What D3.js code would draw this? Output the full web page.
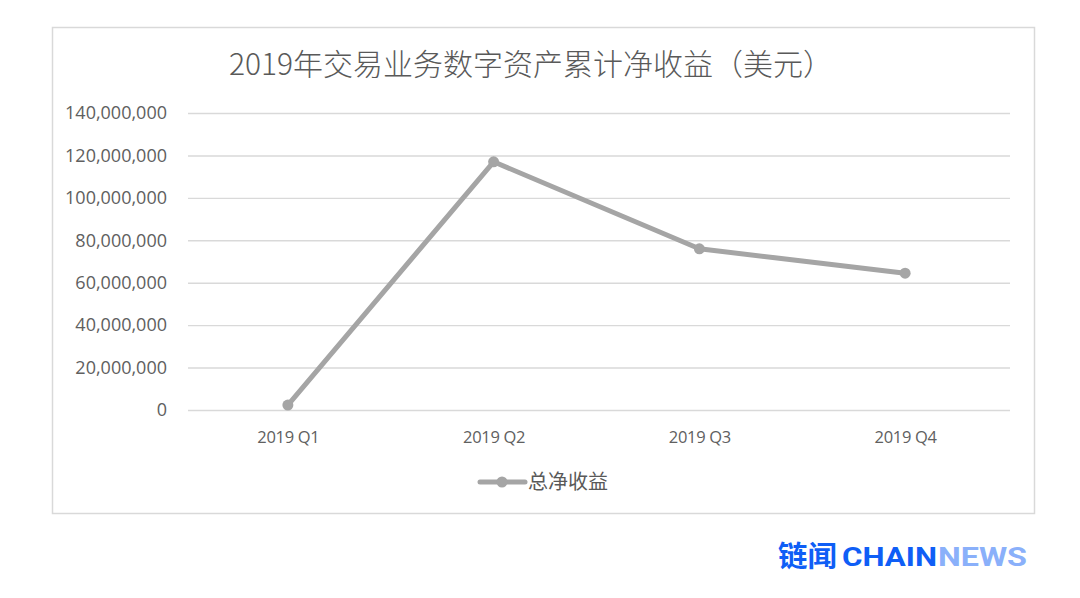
<!DOCTYPE html>
<html>
<head>
<meta charset="utf-8">
<script src="https://cdn.jsdelivr.net/npm/d3@7"></script>
<style>
  html, body { margin: 0; padding: 0; background: #ffffff; }
  svg { display: block; }
</style>
</head>
<body>
<svg id="chart" width="1080" height="598"></svg>
<script>
// Quarterly cumulative net income of trading-business digital assets, 2019 (USD)
const categories = ["2019 Q1", "2019 Q2", "2019 Q3", "2019 Q4"];
const netIncome = [2300000, 117000000, 76000000, 64500000];
const yTicks = [0, 20000000, 40000000, 60000000, 80000000, 100000000, 120000000, 140000000];
const seriesName = "总净收益";
const titleText = "2019年交易业务数字资产累计净收益（美元）";

const W = 1080, H = 598;
const plot = { left: 188, right: 1010, top: 113, bottom: 410 };
const labelColor = "#595959";
const gridColor = "#d9d9d9";
const lineColor = "#a5a5a5";

const svg = d3.select("#chart");

// outer chart frame
svg.append("rect")
  .attr("x", 52.5).attr("y", 27.5)
  .attr("width", 982).attr("height", 486)
  .attr("fill", "#fff")
  .attr("stroke", gridColor)
  .attr("stroke-width", 1.5);

// title
svg.append("text")
  .attr("x", 531).attr("y", 75)
  .attr("text-anchor", "middle")
  .attr("font-family", "'Noto Sans CJK SC', 'Noto Sans', sans-serif")
  .attr("font-weight", 300)
  .attr("font-size", 30)
  .attr("fill", labelColor)
  .text(titleText);

const x = d3.scalePoint()
  .domain(categories)
  .range([185, 1008])
  .padding(0.5);

const y = d3.scaleLinear()
  .domain([0, 140000000])
  .range([plot.bottom, plot.top]);

// y axis with horizontal gridlines
const yAxis = svg.append("g")
  .attr("transform", `translate(${plot.left},0)`)
  .call(d3.axisLeft(y)
    .tickValues(yTicks)
    .tickSize(-(plot.right - plot.left))
    .tickPadding(21)
    .tickFormat(d3.format(",")));
yAxis.select(".domain").remove();
yAxis.selectAll(".tick line")
  .attr("stroke", gridColor)
  .attr("stroke-width", 1.4);
yAxis.selectAll(".tick text")
  .attr("font-family", "'Open Sans', 'Noto Sans', sans-serif")
  .attr("font-size", 18)
  .attr("fill", "#606060");

// x axis labels
const xAxis = svg.append("g")
  .attr("transform", `translate(0,${plot.bottom})`)
  .call(d3.axisBottom(x).tickSize(0).tickPadding(21));
xAxis.select(".domain").remove();
xAxis.selectAll(".tick text")
  .attr("font-family", "'Open Sans', 'Noto Sans', sans-serif")
  .attr("font-size", 16.5)
  .attr("letter-spacing", -0.3)
  .attr("fill", "#606060");

// series line
const line = d3.line()
  .x((d, i) => x(categories[i]))
  .y(d => y(d));

svg.append("path")
  .datum(netIncome)
  .attr("d", line)
  .attr("fill", "none")
  .attr("stroke", lineColor)
  .attr("stroke-width", 5)
  .attr("stroke-linejoin", "round")
  .attr("stroke-linecap", "round");

svg.append("g")
  .selectAll("circle")
  .data(netIncome)
  .join("circle")
  .attr("cx", (d, i) => x(categories[i]))
  .attr("cy", d => y(d))
  .attr("r", 5.5)
  .attr("fill", lineColor);

// legend
const legend = svg.append("g").attr("transform", "translate(480,482)");
legend.append("line")
  .attr("x1", 0).attr("x2", 45)
  .attr("y1", 0).attr("y2", 0)
  .attr("stroke", lineColor)
  .attr("stroke-width", 5)
  .attr("stroke-linecap", "round");
legend.append("circle")
  .attr("cx", 22).attr("cy", 0).attr("r", 5.5)
  .attr("fill", lineColor);
legend.append("text")
  .attr("x", 48).attr("y", 6.5)
  .attr("font-family", "'Noto Sans CJK SC', sans-serif")
  .attr("font-size", 20)
  .attr("fill", labelColor)
  .text(seriesName);

// brand mark
const brand = svg.append("g");
brand.append("text")
  .attr("x", 778).attr("y", 567)
  .attr("font-family", "'Noto Sans CJK SC', sans-serif")
  .attr("font-weight", 700)
  .attr("font-size", 29)
  .attr("fill", "#0f5ef6")
  .attr("textLength", 59)
  .attr("lengthAdjust", "spacingAndGlyphs")
  .text("链闻");
brand.append("text")
  .attr("x", 842).attr("y", 566)
  .attr("font-family", "'Roboto', 'Noto Sans', sans-serif")
  .attr("font-weight", 700)
  .attr("font-size", 25)
  .attr("fill", "#0f5ef6")
  .attr("textLength", 95)
  .attr("lengthAdjust", "spacingAndGlyphs")
  .text("CHAIN");
brand.append("text")
  .attr("x", 938).attr("y", 566)
  .attr("font-family", "'Roboto', 'Noto Sans', sans-serif")
  .attr("font-weight", 700)
  .attr("font-size", 25)
  .attr("fill", "#8ab0fa")
  .attr("textLength", 89)
  .attr("lengthAdjust", "spacingAndGlyphs")
  .text("NEWS");
</script>
</body>
</html>
